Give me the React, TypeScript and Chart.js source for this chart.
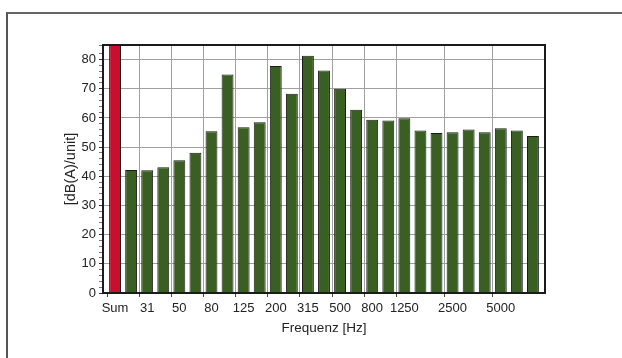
import React, { useEffect, useRef } from "react";
import { Chart, registerables } from "chart.js";

Chart.register(...registerables);

const categories = ["Sum", "25", "31", "40", "50", "63", "80", "100", "125", "160", "200", "250", "315", "400", "500", "630", "800", "1000", "1250", "1600", "2000", "2500", "3150", "4000", "5000", "6300", "8000"];
const shownLabels = ["Sum", "31", "50", "80", "125", "200", "315", "500", "800", "1250", "2500", "5000"];
const levels = [86, 42.2, 42.1, 43.1, 45.5, 48.1, 55.4, 74.9, 56.8, 58.5, 77.8, 68.3, 81.3, 76.3, 70.0, 62.8, 59.4, 59.1, 59.9, 55.7, 54.8, 55.1, 56.0, 55.1, 56.5, 55.7, 53.8];
const yMin = 0;
const yMax = 85;

const FONT = "Liberation Sans, Arial, sans-serif";

function isInt(v: number) {
  return Math.abs(v - Math.round(v)) < 1e-6;
}

export default function App() {
  const ref = useRef<HTMLCanvasElement | null>(null);
  useEffect(() => {
    if (!ref.current) return;
    const colors = categories.map((c) => (c === "Sum" ? "#c8102e" : "#3a5f22"));
    const points = levels.map((v, i) => ({ x: i, y: v }));
    const chart = new Chart(ref.current, {
      type: "bar",
      data: {
        datasets: [
          {
            data: points as any,
            backgroundColor: colors,
            borderColor: "#1b1b1b",
            borderWidth: 1,
            barPercentage: 0.74,
            categoryPercentage: 1,
          },
        ],
      },
      options: {
        animation: false,
        responsive: false,
        maintainAspectRatio: false,
        layout: { padding: { left: 62, right: 77, top: 45, bottom: 22 } },
        plugins: { legend: { display: false }, tooltip: { enabled: false } },
        scales: {
          x: {
            type: "linear",
            min: -0.75,
            max: categories.length - 1 + 0.75,
            offset: false,
            border: { display: true, color: "#1b1b1b", width: 2 },
            grid: {
              tickLength: 4,
              color: (ctx: any) => {
                const v = ctx.tick ? ctx.tick.value : NaN;
                if (!isInt(v)) return "rgba(0,0,0,0)";
                const lbl = categories[Math.round(v)];
                if (lbl === "Sum") return "rgba(0,0,0,0)";
                return shownLabels.includes(lbl) ? "#a0a0a0" : "rgba(0,0,0,0)";
              },
              tickColor: (ctx: any) => {
                const v = ctx.tick ? ctx.tick.value : NaN;
                if (!isInt(v)) return "rgba(0,0,0,0)";
                return shownLabels.includes(categories[Math.round(v)]) ? "#444" : "rgba(0,0,0,0)";
              },
            },
            ticks: {
              stepSize: 1,
              includeBounds: false,
              autoSkip: false,
              maxRotation: 0,
              padding: 4,
              color: "#222",
              font: { family: FONT, size: 13 },
              callback: (v: any) => {
                const n = Number(v);
                if (!isInt(n)) return "";
                const lbl = categories[Math.round(n)];
                return lbl && shownLabels.includes(lbl) ? lbl : "";
              },
            },
            title: {
              display: true,
              text: "Frequenz [Hz]",
              color: "#222",
              padding: { top: 0, bottom: 0 },
              font: { family: FONT, size: 13.5 },
            },
            afterFit: (s: any) => {
              s.height = 43;
            },
          },
          y: {
            min: yMin,
            max: yMax,
            border: { display: true, color: "#1b1b1b", width: 2 },
            grid: {
              tickLength: 4,
              color: (ctx: any) => (ctx.tick && ctx.tick.value % 10 === 0 ? "#a0a0a0" : "rgba(0,0,0,0)"),
              tickColor: (ctx: any) => (ctx.tick && ctx.tick.value % 10 === 0 ? "#333" : "#777"),
            },
            ticks: {
              stepSize: 2,
              autoSkip: false,
              padding: 3,
              color: "#222",
              font: { family: FONT, size: 13 },
              callback: (v: any) => (Number(v) % 10 === 0 ? String(v) : ""),
            },
            title: {
              display: true,
              text: "[dB(A)/unit]",
              color: "#222",
              padding: { top: 0, bottom: 0 },
              font: { family: FONT, size: 14.5 },
            },
            afterFit: (s: any) => {
              s.width = 41;
            },
          },
        },
      },
      plugins: [
        {
          id: "frameBox",
          afterDraw: (c: any) => {
            const { ctx, chartArea } = c;
            ctx.save();
            ctx.strokeStyle = "#1b1b1b";
            ctx.lineWidth = 2;
            ctx.strokeRect(chartArea.left, chartArea.top, chartArea.right - chartArea.left, chartArea.bottom - chartArea.top);
            ctx.restore();
          },
        },
      ],
    });
    return () => chart.destroy();
  }, []);

  return (
    <div style={{ position: "fixed", left: 0, top: 0, width: 622, height: 358, background: "#fff" }}>
      <div
        style={{
          position: "absolute",
          left: 6,
          top: 12,
          width: 616,
          height: 346,
          borderLeft: "2px solid #555",
          borderTop: "2px solid #666",
        }}
      />
      <canvas ref={ref} width={622} height={358} style={{ position: "absolute", left: 0, top: 0 }} />
    </div>
  );
}
